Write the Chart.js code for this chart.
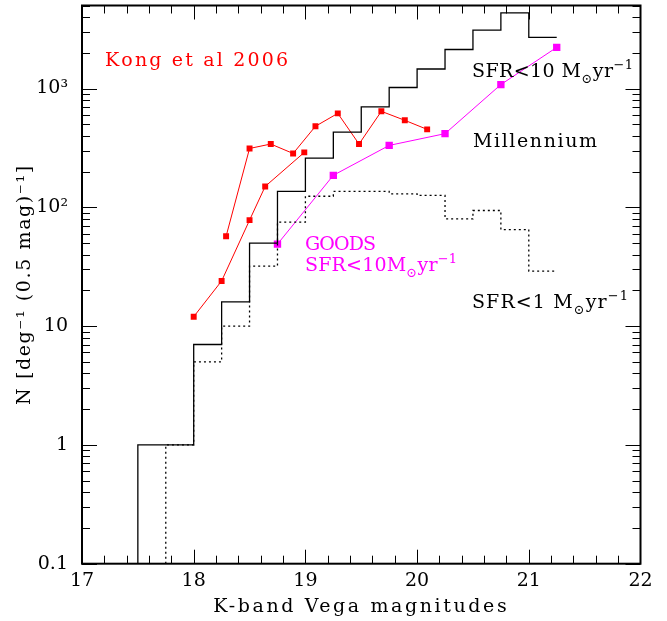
<!DOCTYPE html>
<html>
<head>
<meta charset="utf-8">
<script src="https://cdn.jsdelivr.net/npm/chart.js@4/dist/chart.umd.min.js"></script>
<style>
  html, body { margin: 0; padding: 0; background: #ffffff; }
  #wrap { width: 667px; height: 621px; }
</style>
</head>
<body>
<div id="wrap"><canvas id="c" width="667" height="621"></canvas></div>
<script>
// ---------- data ----------
const xTickValues = [17, 18, 19, 20, 21, 22];
const yTickValues = [0.1, 1, 10, 100, 1000];
const yTickLabels = ["0.1", "1", "10", "10\u00B2", "10\u00B3"];

// Millennium, SFR<10 Msun/yr (solid histogram): bin left edges and counts
const millSFR10Edges = [17.5, 17.75, 18, 18.25, 18.5, 18.75, 19, 19.25, 19.5, 19.75, 20, 20.25, 20.5, 20.75, 21];
const millSFR10Counts = [1, 1, 7, 16, 50, 136, 260, 430, 700, 1020, 1460, 2130, 3100, 4330, 2700];
const millSFR10End = 21.25;

// Millennium, SFR<1 Msun/yr (dotted histogram)
const millSFR1Edges = [17.75, 18, 18.25, 18.5, 18.75, 19, 19.25, 19.5, 19.75, 20, 20.25, 20.5, 20.75, 21];
const millSFR1Counts = [1, 5, 10, 32, 75, 124, 136, 136, 130, 126, 80, 94, 65, 29];
const millSFR1End = 21.25;

// Kong et al 2006 (two red curves)
const kongAMag = [18.0, 18.25, 18.5, 18.64, 18.99];
const kongACounts = [12, 24, 78, 150, 290];
const kongBMag = [18.29, 18.5, 18.69, 18.89, 19.09, 19.29, 19.48, 19.68, 19.89, 20.09];
const kongBCounts = [57, 313, 341, 284, 481, 618, 341, 643, 540, 453];

// GOODS SFR<10 Msun/yr (magenta)
const goodsMag = [18.75, 19.25, 19.75, 20.25, 20.75, 21.25];
const goodsCounts = [49, 186, 332, 417, 1080, 2220];

// ---------- helpers ----------
const X_MIN = 17, X_MAX = 22, Y_MIN = 0.1, Y_MAX = 5000;
const FONT = "'DejaVu Serif', 'Liberation Serif', serif";

function histPoints(edges, counts, end) {
  const pts = [{ x: edges[0], y: Y_MIN }];
  for (let i = 0; i < edges.length; i++) pts.push({ x: edges[i], y: counts[i] });
  pts.push({ x: end, y: counts[counts.length - 1] });
  return pts;
}
function pairs(xs, ys) { return xs.map((x, i) => ({ x: x, y: ys[i] })); }

// rich text drawer: pieces of [text, kind]; kind: n / sub / sup
function drawRich(ctx, x, y, pieces, size, color, targetW) {
  ctx.save();
  ctx.letterSpacing = '0px';
  ctx.fillStyle = color;
  ctx.textBaseline = 'alphabetic';
  ctx.textAlign = 'left';
  const chars = [];
  for (const [t, kind] of pieces) {
    for (const ch of t) chars.push({ ch, kind });
  }
  const fs = k => (k === 'n' ? size : Math.round(size * 0.68));
  const dy = k => (k === 'sub' ? size * 0.32 : k === 'sup' ? -size * 0.42 : 0);
  let nat = 0;
  for (const c of chars) { ctx.font = fs(c.kind) + "px " + FONT; nat += ctx.measureText(c.ch).width; }
  const ls = chars.length > 1 ? (targetW - nat) / (chars.length - 1) : 0;
  let cx = x;
  for (const c of chars) {
    ctx.font = fs(c.kind) + "px " + FONT;
    ctx.fillText(c.ch, cx, y + dy(c.kind));
    cx += ctx.measureText(c.ch).width + ls;
  }
  ctx.restore();
}

const annotations = [
  { x: 105, y: 66, w: 183, color: '#ff0000', pieces: [["Kong et al 2006", 'n']] },
  { x: 472, y: 77, w: 161, color: '#000000', pieces: [["SFR<10 M", 'n'], ["\u2299", 'sub'], ["yr", 'n'], ["\u22121", 'sup']] },
  { x: 473, y: 147, w: 124, color: '#000000', pieces: [["Millennium", 'n']] },
  { x: 305, y: 250, w: 71, color: '#ff00ff', pieces: [["GOODS", 'n']] },
  { x: 305, y: 271, w: 152, color: '#ff00ff', pieces: [["SFR<10M", 'n'], ["\u2299", 'sub'], ["yr", 'n'], ["\u22121", 'sup']] },
  { x: 472, y: 308, w: 156, color: '#000000', pieces: [["SFR<1 M", 'n'], ["\u2299", 'sub'], ["yr", 'n'], ["\u22121", 'sup']] }
];

// wider letter spacing for the axis titles (the original uses a wide plotting font)
const titleSpacing = { x: '2.6px', y: '1.6px' };
const spacingPlugin = {
  id: 'titleSpacing',
  beforeDraw(chart) {
    for (const id of ['x', 'y']) {
      const s = chart.scales[id];
      if (!s || s._spacedTitle) continue;
      const orig = s.drawTitle.bind(s);
      s.drawTitle = function () {
        const ctx = this.ctx;
        const prev = ctx.letterSpacing;
        ctx.letterSpacing = titleSpacing[id];
        orig();
        ctx.letterSpacing = prev || '0px';
      };
      s._spacedTitle = true;
    }
  }
};

const framePlugin = {
  id: 'frameTicks',
  afterDatasetsDraw(chart) {
    const ctx = chart.ctx, a = chart.chartArea;
    const xs = chart.scales.x, ys = chart.scales.y;
    ctx.save();
    ctx.strokeStyle = '#000';
    ctx.lineWidth = 1;
    ctx.beginPath();
    for (let v = X_MIN; v <= X_MAX + 1e-9; v += 0.2) {
      const major = Math.abs(v - Math.round(v)) < 1e-6;
      const L = major ? 14 : 8;
      const px = Math.round(xs.getPixelForValue(v)) + 0.5;
      ctx.moveTo(px, a.bottom); ctx.lineTo(px, a.bottom - L);
      ctx.moveTo(px, a.top); ctx.lineTo(px, a.top + L);
    }
    for (let d = -1; d <= 3; d++) {
      for (let m = 1; m <= 9; m++) {
        const v = m * Math.pow(10, d);
        if (v < Y_MIN - 1e-12 || v > Y_MAX) continue;
        const L = m === 1 ? 15 : 8;
        const py = Math.round(ys.getPixelForValue(v)) + 0.5;
        ctx.moveTo(a.left, py); ctx.lineTo(a.left + L, py);
        ctx.moveTo(a.right, py); ctx.lineTo(a.right - L, py);
      }
    }
    ctx.stroke();
    ctx.lineWidth = 2;
    ctx.strokeRect(a.left, a.top, a.right - a.left, a.bottom - a.top);
    ctx.restore();
    for (const an of annotations) drawRich(ctx, an.x, an.y, an.pieces, 19, an.color, an.w);
  }
};

const chart = new Chart(document.getElementById('c'), {
  type: 'scatter',
  data: {
    datasets: [
      { label: 'Millennium SFR<10', data: histPoints(millSFR10Edges, millSFR10Counts, millSFR10End),
        showLine: true, stepped: 'before', borderColor: '#000', borderWidth: 1.3, pointRadius: 0, fill: false },
      { label: 'Millennium SFR<1', data: histPoints(millSFR1Edges, millSFR1Counts, millSFR1End),
        showLine: true, stepped: 'before', borderColor: '#000', borderWidth: 1.3, borderDash: [2, 3], pointRadius: 0, fill: false },
      { label: 'Kong A', data: pairs(kongAMag, kongACounts), showLine: true, borderColor: '#ff0000', borderWidth: 1,
        pointStyle: 'rect', pointRadius: 4.2, pointBackgroundColor: '#ff0000', pointBorderWidth: 0, fill: false },
      { label: 'Kong B', data: pairs(kongBMag, kongBCounts), showLine: true, borderColor: '#ff0000', borderWidth: 1,
        pointStyle: 'rect', pointRadius: 4.2, pointBackgroundColor: '#ff0000', pointBorderWidth: 0, fill: false },
      { label: 'GOODS', data: pairs(goodsMag, goodsCounts), showLine: true, borderColor: '#ff00ff', borderWidth: 1,
        pointStyle: 'rect', pointRadius: 5.2, pointBackgroundColor: '#ff00ff', pointBorderWidth: 0, fill: false }
    ]
  },
  options: {
    responsive: false,
    animation: false,
    devicePixelRatio: 1,
    layout: { padding: { left: 0, right: 26.5, top: 5.5, bottom: 0 } },
    plugins: { legend: { display: false }, tooltip: { enabled: false } },
    scales: {
      x: {
        type: 'linear', min: X_MIN, max: X_MAX,
        grid: { display: false, drawTicks: false }, border: { display: false },
        afterBuildTicks: s => { s.ticks = xTickValues.map(v => ({ value: v })); },
        ticks: { color: '#000', font: { family: FONT, size: 19 }, padding: 6, maxRotation: 0, autoSkip: false,
                 callback: v => String(v) },
        title: { display: true, text: 'K-band Vega magnitudes', color: '#000',
                 font: { family: FONT, size: 19 }, padding: { top: 0, bottom: 3 } },
        afterFit: s => { s.height = 57.3; s.paddingLeft = 0; s.paddingRight = 0; }
      },
      y: {
        type: 'logarithmic', min: Y_MIN, max: Y_MAX,
        grid: { display: false, drawTicks: false }, border: { display: false },
        afterBuildTicks: s => { s.ticks = yTickValues.map(v => ({ value: v })); },
        ticks: { color: '#000', font: { family: FONT, size: 19 }, padding: 14, autoSkip: false,
                 callback: (v) => yTickLabels[yTickValues.findIndex(t => Math.abs(t - v) / t < 1e-6)] },
        title: { display: true, text: 'N [deg\u207B\u00B9 (0.5 mag)\u207B\u00B9]', color: '#000',
                 font: { family: FONT, size: 19 }, padding: { top: 14, bottom: 0 } },
        afterFit: s => { s.width = 82; s.paddingTop = 0; s.paddingBottom = 0; }
      }
    }
  },
  plugins: [spacingPlugin, framePlugin]
});
</script>
</body>
</html>
